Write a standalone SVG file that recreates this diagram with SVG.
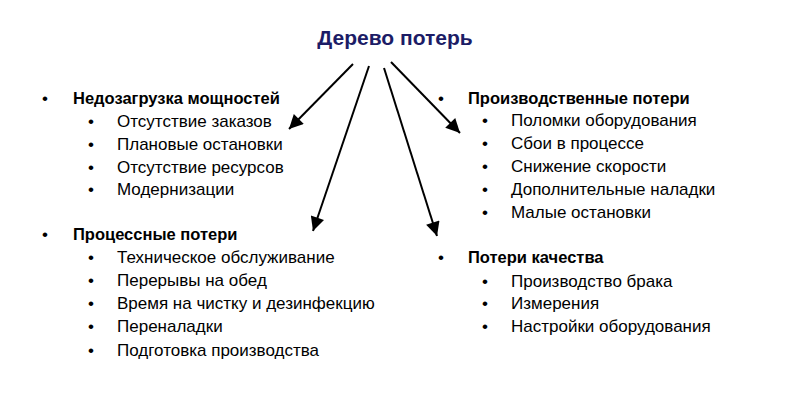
<svg xmlns="http://www.w3.org/2000/svg" width="800" height="407" viewBox="0 0 800 407">
<style>
text{font-family:"Liberation Sans",Arial,sans-serif;font-size:17px;fill:#000}
.h{font-weight:bold;font-size:16.5px}
.t{font-weight:bold;font-size:21px;fill:#1c1c66}
.c line{stroke:#000;stroke-width:2;marker-end:url(#b)}
</style>
<defs>
<marker id="b" viewBox="0 0 10 10" refX="10" refY="5" markerWidth="16" markerHeight="14" orient="auto" markerUnits="userSpaceOnUse"><path d="M0,0 L10,5 L0,10 z"/></marker></defs>
<rect width="800" height="407" fill="#fff"/>
<g id="title"><text class="t" x="395" y="45" text-anchor="middle">Дерево потерь</text></g>
<g class="c" id="connectors">
<line x1="353" y1="64" x2="289" y2="129"/>
<line x1="369" y1="66" x2="313" y2="231"/>
<line x1="384" y1="68" x2="437" y2="236"/>
<line x1="391" y1="62" x2="460" y2="133"/>
</g>
<g id="n1">
<text x="42" y="104">•</text><text class="h" x="73" y="104">Недозагрузка мощностей</text>
<text x="88" y="127">•</text><text x="117" y="127">Отсутствие заказов</text>
<text x="88" y="150">•</text><text x="117" y="150">Плановые остановки</text>
<text x="88" y="173">•</text><text x="117" y="173">Отсутствие ресурсов</text>
<text x="88" y="195">•</text><text x="117" y="195">Модернизации</text>
</g>
<g id="n2">
<text x="42" y="240">•</text><text class="h" x="73" y="240">Процессные потери</text>
<text x="88" y="263">•</text><text x="117" y="263">Техническое обслуживание</text>
<text x="88" y="286">•</text><text x="117" y="286">Перерывы на обед</text>
<text x="88" y="309">•</text><text x="117" y="309">Время на чистку и дезинфекцию</text>
<text x="88" y="332">•</text><text x="117" y="332">Переналадки</text>
<text x="88" y="356">•</text><text x="117" y="356">Подготовка производства</text>
</g>
<g id="n3">
<text x="438" y="104">•</text><text class="h" x="468" y="104">Производственные потери</text>
<text x="482" y="126">•</text><text x="511" y="126">Поломки оборудования</text>
<text x="482" y="149">•</text><text x="511" y="149">Сбои в процессе</text>
<text x="482" y="172">•</text><text x="511" y="172">Снижение скорости</text>
<text x="482" y="195">•</text><text x="511" y="195">Дополнительные наладки</text>
<text x="482" y="218">•</text><text x="511" y="218">Малые остановки</text>
</g>
<g id="n4">
<text x="438" y="263">•</text><text class="h" x="468" y="263">Потери качества</text>
<text x="482" y="287">•</text><text x="511" y="287">Производство брака</text>
<text x="482" y="309">•</text><text x="511" y="309">Измерения</text>
<text x="482" y="332">•</text><text x="511" y="332">Настройки оборудования</text>
</g>
</svg>
